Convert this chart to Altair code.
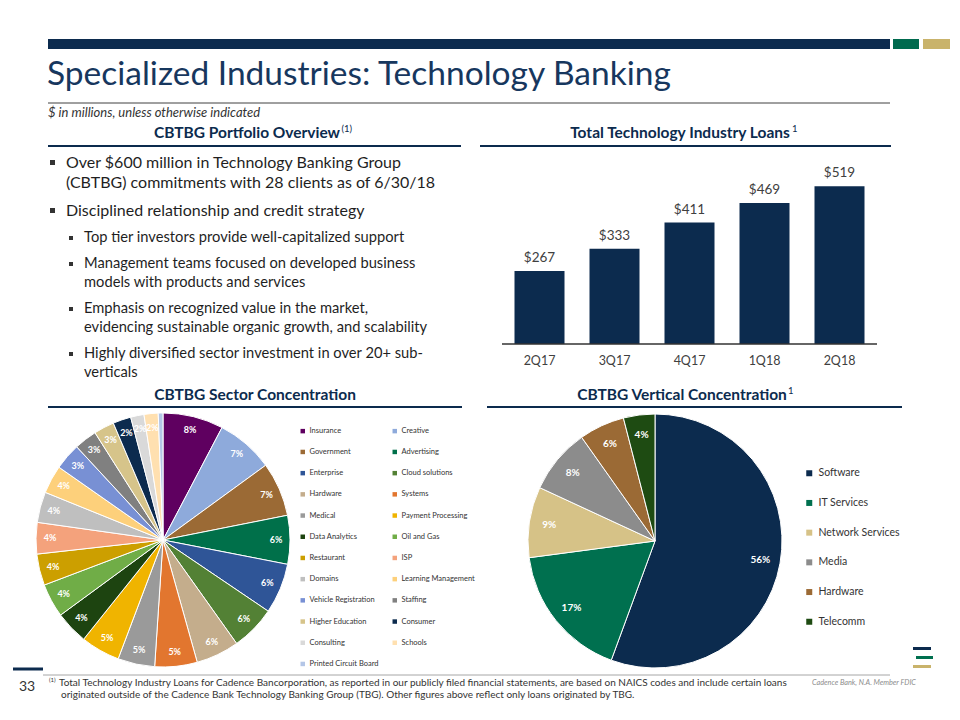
import altair as alt
import pandas as pd

OFF = 8
def P(v):
    return v - OFF

NAVY = "#0c2b4e"
TXT = "#1f1f1f"
FONT = "Lato"

# ---------------- data ----------------
quarters = ["2Q17", "3Q17", "4Q17", "1Q18", "2Q18"]
loans = [267, 333, 411, 469, 519]

sectors = ["Insurance", "Creative", "Government", "Advertising", "Enterprise",
           "Cloud solutions", "Hardware", "Systems", "Medical", "Payment Processing",
           "Data Analytics", "Oil and Gas", "Restaurant", "ISP", "Domains",
           "Learning Management", "Vehicle Registration", "Staffing", "Higher Education",
           "Consumer", "Consulting", "Schools", "Printed Circuit Board"]
sector_pct = [7.7, 7.3, 6.9, 6.2, 6.4, 5.7, 5.5, 5.4, 4.7, 5.0, 4.2, 4.3, 4.0, 4.0,
              3.9, 3.6, 3.4, 2.9, 2.6, 2.3, 1.7, 1.8, 0.6]
sector_colors = ["#5f0060", "#8eaadb", "#9b6a35", "#00704a", "#2f5597", "#538135",
                 "#c4ad8c", "#e2762f", "#9a9a9a", "#f0b400", "#1d4410", "#70ad47",
                 "#cc9f00", "#f4a27c", "#bfbfbf", "#fdd07b", "#7890d4", "#808080",
                 "#d6c48a", "#0c2b4e", "#d9d9d9", "#ffe0b0", "#b4c6e7"]

verticals = ["Software", "IT Services", "Network Services", "Media", "Hardware", "Telecomm"]
vertical_pct = [55.6, 17.3, 9.0, 8.3, 5.8, 4.0]
vertical_colors = ["#0c2b4e", "#00704f", "#d6c287", "#8c8c8c", "#9b6a35", "#1e4b12"]

bar_df = pd.DataFrame({"q": quarters, "v": loans, "lab": ["$" + str(v) for v in loans]})
sec_df = pd.DataFrame({"name": sectors, "pct": sector_pct, "idx": range(len(sectors)),
                       "lab": [f"{round(v)}%" if v >= 1 else "" for v in sector_pct]})
ver_df = pd.DataFrame({"name": verticals, "pct": vertical_pct, "idx": range(len(verticals)),
                       "lab": [f"{round(v)}%" for v in vertical_pct]})

# legend grid fills column by column: put even entries in column 1, odd in column 2
legend_order = list(range(0, len(sectors), 2)) + list(range(1, len(sectors), 2))
sec_domain = [sectors[i] for i in legend_order]
sec_range = [sector_colors[i] for i in legend_order]

dummy = alt.Data(values=[{"a": 1}])

def txt(text, x, y, size=12, color=TXT, weight="normal", align="left", style="normal",
        baseline="middle", font=FONT):
    return alt.Chart(dummy).mark_text(text=text, fontSize=size, color=color, fontWeight=weight,
                                      align=align, fontStyle=style, baseline=baseline,
                                      font=font).encode(x=alt.value(P(x)), y=alt.value(P(y)))

def rect(x1, x2, y1, y2, color):
    return alt.Chart(dummy).mark_rect(color=color).encode(
        x=alt.value(P(x1)), x2=alt.value(P(x2)), y=alt.value(P(y1)), y2=alt.value(P(y2)))

def rule(x1, x2, y, color, w=1):
    return alt.Chart(dummy).mark_rule(color=color, strokeWidth=w).encode(
        x=alt.value(P(x1)), x2=alt.value(P(x2)), y=alt.value(P(y)))

layers = []

# header bars
layers += [rect(48, 890, 39, 49, NAVY), rect(893, 919, 39, 49, "#006a4e"),
           rect(923, 950, 39, 49, "#c9b36b")]
layers.append(txt("Specialized Industries: Technology Banking", 47, 75, size=33.5,
                  color="#17375e"))
layers.append(rule(48, 890, 103, "#404040", 1))
layers.append(txt("$ in millions, unless otherwise indicated", 48, 113, size=13,
                  style="italic", color="#333333"))

# section headers
HS = 15.5
layers.append(txt("CBTBG Portfolio Overview", 247, 133, size=HS, weight="bold",
                  color=NAVY, align="center"))
layers.append(txt("(1)", 341.5, 129, size=9.5, color=NAVY))
layers.append(rule(48, 461, 146, NAVY, 2))
layers.append(txt("Total Technology Industry Loans", 680, 133, size=HS, weight="bold",
                  color=NAVY, align="center"))
layers.append(txt("1", 792, 129, size=9.5, color=NAVY))
layers.append(rule(480, 891, 146, NAVY, 2))
layers.append(txt("CBTBG Sector Concentration", 255, 395, size=HS, weight="bold",
                  color=NAVY, align="center"))
layers.append(rule(48, 462, 407, NAVY, 2))
layers.append(txt("CBTBG Vertical Concentration", 682, 395, size=HS, weight="bold",
                  color=NAVY, align="center"))
layers.append(txt("1", 788, 391, size=9.5, color=NAVY))
layers.append(rule(487, 902, 407, NAVY, 2))

# bullets
main_lines = [("Over $600 million in Technology  Banking Group", 163, True),
              ("(CBTBG) commitments with 28 clients as of 6/30/18", 183, False),
              ("Disciplined relationship and credit strategy", 211, True)]
for t, y, b in main_lines:
    layers.append(txt(t, 66, y, size=16))
    if b:
        layers.append(rect(50, 55, y - 3, y + 2, "#333333"))
sub_lines = [("Top tier investors provide well-capitalized support", 238, True),
             ("Management teams focused on developed business", 264, True),
             ("models with products and services", 283, False),
             ("Emphasis on recognized value in the market,", 309, True),
             ("evidencing sustainable organic growth, and scalability", 328, False),
             ("Highly diversified sector investment in over 20+ sub-", 354, True),
             ("verticals", 373, False)]
for t, y, b in sub_lines:
    layers.append(txt(t, 84, y, size=14.7))
    if b:
        layers.append(rect(69, 73, y - 2, y + 2, "#333333"))

# bar chart
xs = alt.X("q:N", sort=quarters, axis=None,
           scale=alt.Scale(range=[P(502), P(877)], paddingInner=1 / 3, paddingOuter=1 / 6))
ys = alt.Y("v:Q", axis=None,
           scale=alt.Scale(domain=[50, 600], range=[P(344), P(159)], zero=False))
layers.append(alt.Chart(bar_df).mark_bar(color=NAVY).encode(x=xs, y=ys, y2=alt.datum(50)))
layers.append(alt.Chart(bar_df).mark_text(fontSize=13.5, color="#404040", font=FONT,
                                          baseline="alphabetic", dy=-9).encode(
    x=xs, y=ys, text="lab:N"))
layers.append(alt.Chart(bar_df).mark_text(fontSize=12.5, color="#404040", font=FONT,
                                          baseline="middle").encode(
    x=xs, y=alt.value(P(361)), text="q:N"))
layers.append(rule(502, 877, 344, "#333333", 1.5))

# sector pie
sec_color = alt.Color("name:N", scale=alt.Scale(domain=sec_domain, range=sec_range),
                      legend=alt.Legend(orient="none", legendX=P(299), legendY=P(427),
                                        columns=2, title=None, symbolType="square",
                                        symbolSize=20, symbolStrokeWidth=0,
                                        labelFontSize=7.5, labelFont=FONT,
                                        labelColor="#333333", rowPadding=12.2,
                                        columnPadding=12, labelOffset=3))
sec_arc = alt.Chart(sec_df).mark_arc(radius=127, stroke="white", strokeWidth=1).encode(
    theta=alt.Theta("pct:Q", stack=True), color=sec_color, order=alt.Order("idx:Q"),
    x=alt.value(P(163)), y=alt.value(P(540)))
sec_txt = alt.Chart(sec_df).mark_text(radius=113, fontSize=9, fontWeight="bold",
                                      color="white", font=FONT).encode(
    theta=alt.Theta("pct:Q", stack=True), order=alt.Order("idx:Q"), text="lab:N",
    x=alt.value(P(163)), y=alt.value(P(540)))
layers.append(alt.layer(sec_arc, sec_txt))

# vertical pie
ver_color = alt.Color("name:N", scale=alt.Scale(domain=verticals, range=vertical_colors),
                      legend=alt.Legend(orient="none", legendX=P(804), legendY=P(468),
                                        title=None, symbolType="square", symbolSize=36,
                                        symbolStrokeWidth=0, labelFontSize=10.5,
                                        labelFont=FONT, labelColor="#333333",
                                        rowPadding=18.7, labelOffset=4))
ver_arc = alt.Chart(ver_df).mark_arc(radius=127, stroke="white", strokeWidth=1).encode(
    theta=alt.Theta("pct:Q", stack=True), color=ver_color, order=alt.Order("idx:Q"),
    x=alt.value(P(655)), y=alt.value(P(541)))
ver_txt = alt.Chart(ver_df).mark_text(radius=107, fontSize=10, fontWeight="bold",
                                      color="white", font=FONT).encode(
    theta=alt.Theta("pct:Q", stack=True), order=alt.Order("idx:Q"), text="lab:N",
    x=alt.value(P(655)), y=alt.value(P(541)))
layers.append(alt.layer(ver_arc, ver_txt))

# footer
layers.append(rule(13, 43, 669, NAVY, 3))
layers.append(rule(43, 890, 675, "#a6a6a6", 1))
layers.append(txt("33", 27, 687, size=14, color="#333333", align="center"))
layers.append(txt("(1)", 49, 680, size=6, color="#333333"))
layers.append(txt("Total Technology Industry Loans for Cadence Bancorporation, as reported in our publicly filed financial statements, are based on NAICS codes and include certain loans",
                  59, 683, size=10, color="#333333"))
layers.append(txt("originated outside of the Cadence Bank Technology Banking Group (TBG).  Other figures above reflect only loans originated by TBG.",
                  61, 695, size=10, color="#333333"))
layers.append(txt("Cadence Bank, N.A. Member FDIC", 812, 683, size=7.3, color="#8c8c8c",
                  style="italic"))
layers += [rect(913, 931, 647, 650, NAVY), rect(916, 933, 656, 659, "#00704f"),
           rect(913, 931, 665, 668, "#c9b36b")]

chart = alt.layer(*layers).resolve_scale(
    theta="independent", color="independent"
).properties(
    width=944, height=704, autosize=alt.AutoSizeParams(type="none"), padding=0,
    background="white"
).configure_view(stroke=None)

chart.save("out.html", embed_options={"renderer": "svg", "actions": False})
